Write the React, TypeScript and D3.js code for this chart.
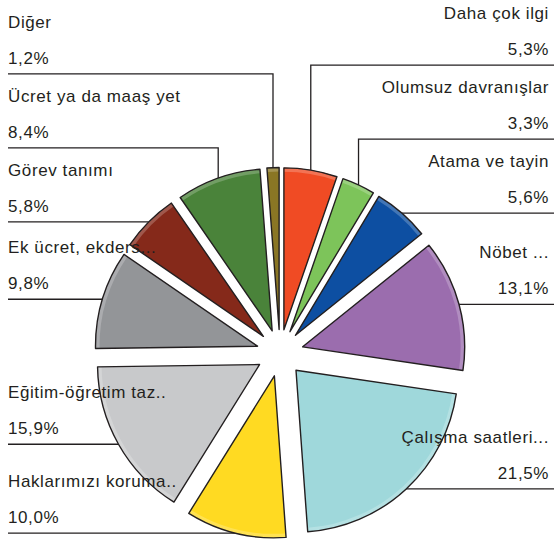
import * as d3 from "d3";
import { useEffect, useRef } from "react";

const categories = [
  "Daha çok ilgi",
  "Olumsuz davranışlar",
  "Atama ve tayin",
  "Nöbet ...",
  "Çalışma saatleri...",
  "Haklarımızı koruma..",
  "Eğitim-öğretim taz..",
  "Ek ücret, ekders...",
  "Görev tanımı",
  "Ücret ya da maaş yet",
  "Diğer",
];
const values = [5.3, 3.3, 5.6, 13.1, 21.5, 10.0, 15.9, 9.8, 5.8, 8.4, 1.2];
const colors = [
  "#f04b24",
  "#7dc45a",
  "#0d4fa2",
  "#9b6dae",
  "#9fd8db",
  "#ffda22",
  "#c8c9cb",
  "#939598",
  "#85291a",
  "#4a833a",
  "#8a7624",
];

type Slice = { name: string; value: number; color: string };

export default function App(): JSX.Element {
  const svgRef = useRef<SVGSVGElement>(null);

  useEffect(() => {
    if (!svgRef.current) return;
    const width = 554;
    const height = 543;
    const cx = 280;
    const cy = 353;
    const radius = 162;
    const explode = 23.5;
    const ink = "#231f20";
    const font = "'Liberation Sans', Arial, sans-serif";

    const svg = d3.select(svgRef.current);
    svg.selectAll("*").remove();
    svg.attr("width", width).attr("height", height);

    const data: Slice[] = categories.map((name, i) => ({ name, value: values[i], color: colors[i] }));
    const arcs = d3
      .pie<Slice>()
      .sort(null)
      .value((d) => d.value)(data);

    const arcGen = d3.arc<d3.PieArcDatum<Slice>>().innerRadius(0).outerRadius(radius);
    const rimGen = d3
      .arc<d3.PieArcDatum<Slice>>()
      .innerRadius(radius - 4)
      .outerRadius(radius);

    const items = arcs.map((a) => {
      const mid = (a.startAngle + a.endAngle) / 2;
      const ox = cx + explode * Math.sin(mid);
      const oy = cy - explode * Math.cos(mid);
      return {
        a,
        mid,
        ox,
        oy,
        ax: ox + radius * Math.sin(mid),
        ay: oy - radius * Math.cos(mid),
        right: mid < Math.PI,
        ly: 0,
      };
    });

    // push labels upward when they would overlap
    const gap = 74;
    for (const side of [true, false]) {
      const group = items.filter((d) => d.right === side).sort((p, q) => q.ay - p.ay);
      let prev = Infinity;
      for (const it of group) {
        it.ly = Math.min(it.ay, prev - gap);
        prev = it.ly;
      }
    }

    // leader lines (behind slices)
    svg
      .append("g")
      .selectAll("path")
      .data(items)
      .join("path")
      .attr("d", (d) => `M${d.right ? 554 : 8},${d.ly}H${d.ax}V${d.ay}`)
      .attr("fill", "none")
      .attr("stroke", ink)
      .attr("stroke-width", 1.3);

    const slices = svg
      .append("g")
      .selectAll("g")
      .data(items)
      .join("g")
      .attr("transform", (d) => `translate(${d.ox},${d.oy})`);

    slices
      .append("path")
      .attr("d", (d) => arcGen(d.a))
      .attr("fill", (d) => d.a.data.color);

    slices
      .append("path")
      .attr("d", (d) => rimGen(d.a))
      .attr("fill", (d) => d3.interpolateRgb(d.a.data.color, "#ffffff")(0.22));

    slices
      .append("path")
      .attr("d", (d) => arcGen(d.a))
      .attr("fill", "none")
      .attr("stroke", ink)
      .attr("stroke-width", 1.4)
      .attr("stroke-linejoin", "round");

    const labels = svg
      .append("g")
      .style("font-family", font)
      .style("font-size", "17px")
      .style("letter-spacing", "0.6px")
      .attr("fill", ink)
      .selectAll("g")
      .data(items)
      .join("g");

    labels
      .append("text")
      .attr("x", (d) => (d.right ? 549 : 8))
      .attr("y", (d) => d.ly - 46)
      .attr("text-anchor", (d) => (d.right ? "end" : "start"))
      .text((d) => d.a.data.name);

    labels
      .append("text")
      .attr("x", (d) => (d.right ? 549 : 8))
      .attr("y", (d) => d.ly - 10)
      .attr("text-anchor", (d) => (d.right ? "end" : "start"))
      .text((d) => `${d3.format(".1f")(d.a.data.value).replace(".", ",")}%`);
  }, []);

  return (
    <div style={{ position: "absolute", left: 0, top: 0 }}>
      <svg ref={svgRef} style={{ display: "block", background: "#fff" }} />
    </div>
  );
}
